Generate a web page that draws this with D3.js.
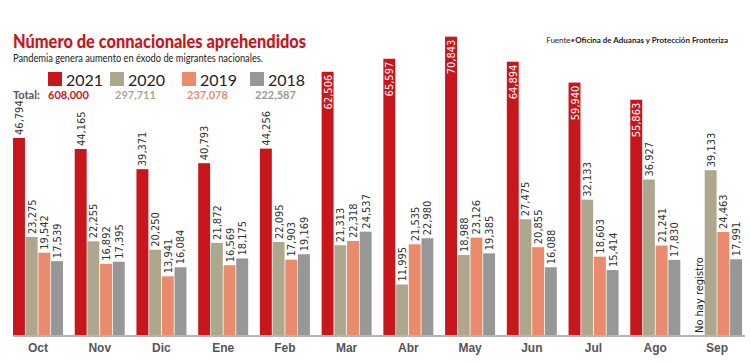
<!DOCTYPE html>
<html>
<head>
<meta charset="utf-8">
<script src="https://cdn.jsdelivr.net/npm/d3@7"></script>
<style>
  body { margin: 0; background: #fff; }
  svg { display: block; }
  .val { font-family: "Liberation Sans Narrow", "Arial Narrow", "DejaVu Sans Condensed", sans-serif; font-size: 11px; fill: #333; }
  .month { font-family: "Liberation Sans Narrow", "Arial Narrow", sans-serif; font-size: 12px; font-weight: bold; fill: #555; }
</style>
</head>
<body>
<div id="chart"></div>
<script>
const months = ["Oct", "Nov", "Dic", "Ene", "Feb", "Mar", "Abr", "May", "Jun", "Jul", "Ago", "Sep"];
const years = ["2021", "2020", "2019", "2018"];
const totals = ["608,000", "297,711", "237,078", "222,587"];
const v2021 = [46794, 44165, 39371, 40793, 44256, 62506, 65597, 70843, 64894, 59940, 55863, null];
const v2020 = [23275, 22255, 20250, 21872, 22095, 21313, 11995, 18988, 27475, 32133, 36927, 39133];
const v2019 = [19542, 16892, 13941, 16569, 17903, 22318, 21535, 23126, 20855, 18603, 21241, 24463];
const v2018 = [17539, 17395, 16084, 18175, 19169, 24537, 22980, 19385, 16088, 15414, 17830, 17991];
const colors = ["#c8161d", "#aca78d", "#e98b6c", "#979797"];
const totalColors = ["#c8161d", "#aca78d", "#e98b6c", "#999999"];

const w = 750, h = 362;
const base = 335;

const series = [v2021, v2020, v2019, v2018];
const fmt = d3.format(",");

const svg = d3.select("#chart").append("svg")
  .attr("width", w)
  .attr("height", h);

const x0 = d3.scaleBand()
  .domain(months)
  .range([13, 742])
  .paddingInner(0.19)
  .paddingOuter(0);

const x1 = d3.scaleBand()
  .domain(years)
  .range([0, x0.bandwidth()])
  .paddingInner(0.06);

const y = d3.scaleLinear()
  .domain([0, 71000])
  .range([base, 36]);

// title block
svg.append("text")
  .attr("x", 13).attr("y", 48)
  .attr("textLength", 293).attr("lengthAdjust", "spacingAndGlyphs")
  .style("font-family", "Lato, sans-serif")
  .style("font-weight", "900")
  .style("font-size", "18px")
  .style("fill", "#c8161d")
  .text("Número de connacionales aprehendidos");

svg.append("text")
  .attr("x", 13).attr("y", 62)
  .attr("textLength", 250).attr("lengthAdjust", "spacingAndGlyphs")
  .style("font-family", "Lato, sans-serif")
  .style("font-size", "11px")
  .style("fill", "#222")
  .text("Pandemia genera aumento en éxodo de migrantes nacionales.");

const src = svg.append("text")
  .attr("x", 728).attr("y", 43)
  .attr("text-anchor", "end")
  .style("font-family", "Lato, sans-serif")
  .style("font-size", "8px")
  .style("fill", "#222");
src.append("tspan").text("Fuente");
src.append("tspan").style("fill", "#c8161d").text("•");
src.append("tspan").style("font-weight", "bold").text("Oficina de Aduanas y Protección Fronteriza");

// legend
const legX = [48, 110, 182, 250];
const leg = svg.selectAll("g.leg")
  .data(years)
  .enter().append("g")
  .attr("class", "leg")
  .attr("transform", (d, i) => "translate(" + legX[i] + ",72)");

leg.append("rect")
  .attr("width", 14).attr("height", 14)
  .attr("fill", (d, i) => colors[i]);

leg.append("text")
  .attr("x", 18).attr("y", 14)
  .style("font-family", "Lato, sans-serif")
  .style("font-size", "16px")
  .style("fill", "#222")
  .text(d => d);

svg.append("text")
  .attr("x", 13).attr("y", 99)
  .style("font-family", "Lato, sans-serif")
  .style("font-weight", "bold")
  .style("font-size", "11px")
  .style("fill", "#555")
  .text("Total:");

svg.selectAll("text.tot")
  .data(totals)
  .enter().append("text")
  .attr("class", "tot")
  .attr("x", (d, i) => legX[i] + (i == 0 ? 0 : 5))
  .attr("y", 99)
  .style("font-family", "Lato, sans-serif")
  .style("font-weight", "bold")
  .style("font-size", "11px")
  .style("fill", (d, i) => totalColors[i])
  .text(d => d);

// baseline
svg.append("line")
  .attr("x1", 13).attr("x2", 745)
  .attr("y1", base + 1).attr("y2", base + 1)
  .attr("stroke", "#b5b5b5")
  .attr("stroke-width", 2);

// bars
const groups = svg.selectAll("g.month")
  .data(months)
  .enter().append("g")
  .attr("transform", d => "translate(" + x0(d) + ",0)");

const cells = groups.selectAll("g.cell")
  .data((m, mi) => years.map((yr, si) => ({ yr: yr, si: si, v: series[si][mi] })))
  .enter().append("g");

cells.filter(d => d.v != null).append("rect")
  .attr("x", d => x1(d.yr))
  .attr("y", d => y(d.v))
  .attr("width", x1.bandwidth())
  .attr("height", d => base - y(d.v))
  .attr("fill", d => colors[d.si]);

cells.filter(d => d.v != null).append("text")
  .attr("class", "val")
  .attr("transform", d => {
    const cx = x1(d.yr) + x1.bandwidth() / 2 + 4;
    const inside = d.v > 50000;
    return "translate(" + cx + "," + (inside ? y(d.v) + 3 : y(d.v) - 3) + ") rotate(-90)";
  })
  .attr("text-anchor", d => d.v > 50000 ? "end" : "start")
  .style("fill", d => d.v > 50000 ? "#fff" : "#333")
  .text(d => fmt(d.v));

cells.filter(d => d.v == null).append("text")
  .attr("class", "val")
  .attr("transform", d => "translate(" + (x1(d.yr) + x1.bandwidth() / 2 + 5) + "," + (base - 2) + ") rotate(-90)")
  .style("fill", "#222")
  .text("No hay registro");

// month labels
svg.selectAll("text.month")
  .data(months)
  .enter().append("text")
  .attr("class", "month")
  .attr("x", d => x0(d) + x0.bandwidth() / 2)
  .attr("y", 352)
  .attr("text-anchor", "middle")
  .text(d => d);
</script>
</body>
</html>
